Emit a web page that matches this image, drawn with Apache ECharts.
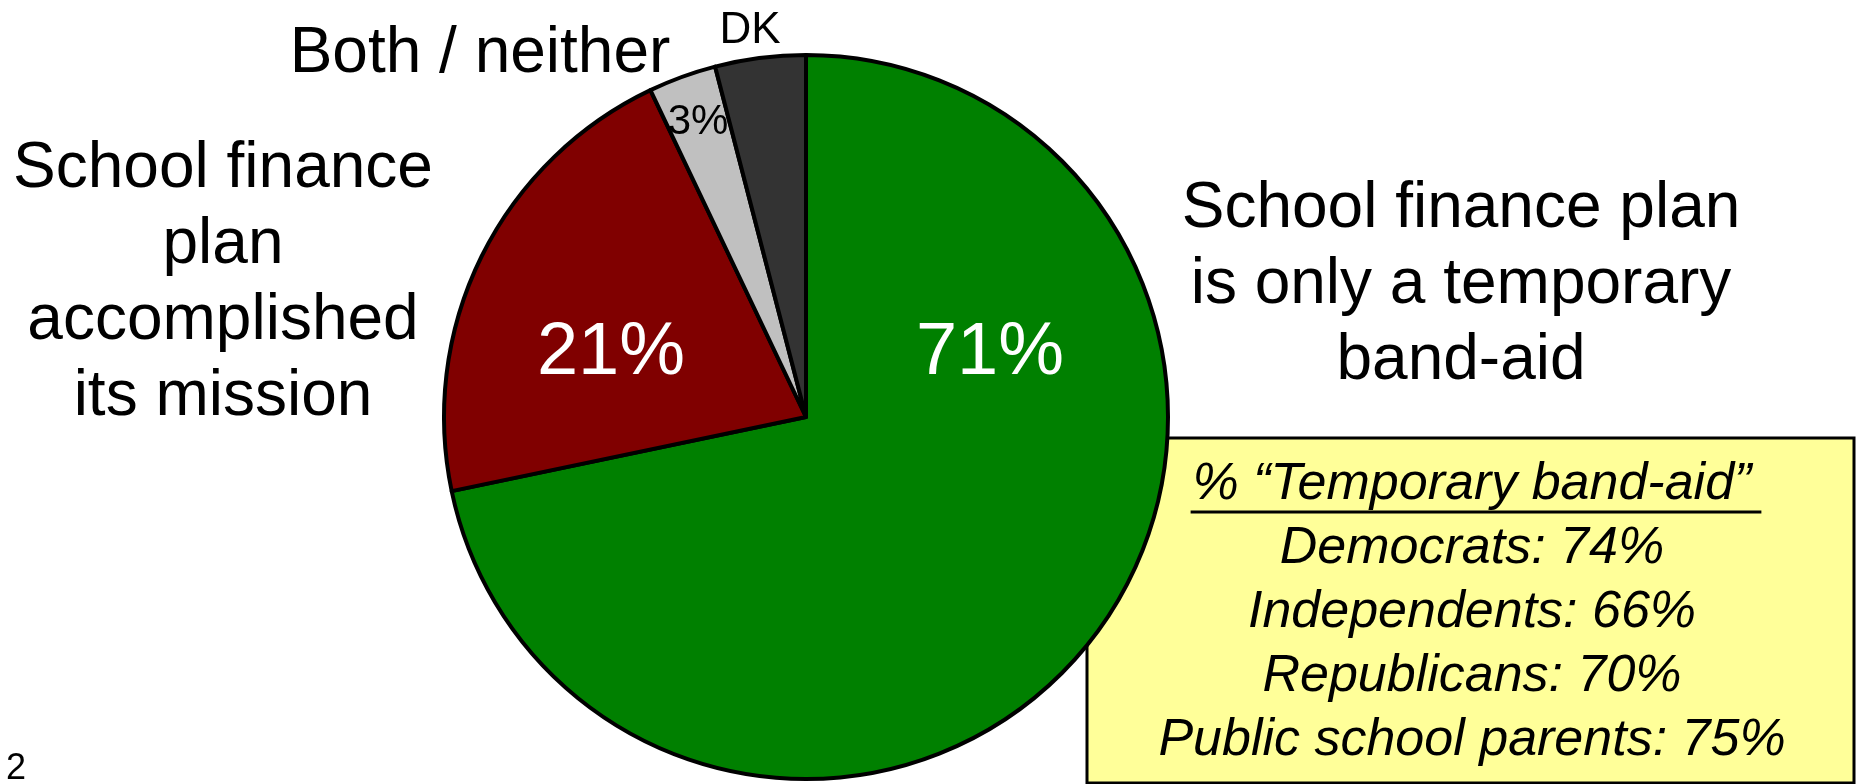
<!DOCTYPE html>
<html lang="en">
<head>
    <meta charset="UTF-8">
    <title>School finance plan</title>
    <style>
        *{
            margin: 0;
            padding: 0;
        }
        body{
            background: #fff;
        }
    </style>
</head>
<body>
<div id="main" style="width: 1856px;height:784px;"></div>
<script src="https://cdn.jsdelivr.net/npm/echarts@6/dist/echarts.min.js"></script>
<script type="text/javascript">
    // slices, clockwise from 12 o'clock
    var categories = ['School finance plan\nis only a temporary\nband-aid', 'School finance\nplan\naccomplished\nits mission', 'Both / neither', 'DK'];
    var values = [71, 21, 3, 4];
    var colors = ['#008000', '#800000', '#c0c0c0', '#333333'];

    // yellow box
    var boxTitle = '% \u201cTemporary band-aid\u201d';
    var groups = ['Democrats', 'Independents', 'Republicans', 'Public school parents'];
    var groupValues = [74, 66, 70, 75];

    var pageNo = '2';

    var FONT = "'Liberation Sans', Arial, sans-serif";
    var cx = 806, cy = 417;

    var myChart = echarts.init(document.getElementById('main'));

    var pieData = [];
    for(let i = 0;i<values.length;i++){
        pieData.push({
            name: categories[i],
            value: values[i],
            itemStyle: {color: colors[i]}
        });
    }

    // width of the box title, for the underline
    var ctx = document.createElement('canvas').getContext('2d');
    ctx.font = 'italic 52px ' + FONT;
    var titleW = ctx.measureText(boxTitle).width;

    function txt(x, y, s, size, color, extra){
        var st = {
            x: x, y: y, text: s,
            fill: color || '#000',
            font: (extra && extra.italic ? 'italic ' : '') + size + 'px ' + FONT,
            align: 'center',
            verticalAlign: 'middle'
        };
        if(extra && extra.lineHeight){
            st.lineHeight = extra.lineHeight;
        }
        return {type: 'text', z: 10, style: st};
    }

    var graphics = [
        {
            type: 'rect', z: 0,
            shape: {x: 1087, y: 438, width: 767, height: 345},
            style: {fill: '#ffff99', stroke: '#000', lineWidth: 3}
        },
        txt(1461, 285, categories[0], 64, '#000', {lineHeight: 76}),
        txt(223, 283, categories[1], 64, '#000', {lineHeight: 76}),
        txt(480, 54, categories[2], 64),
        txt(750, 31, categories[3], 44),
        txt(698, 122, values[2] + '%', 42),
        txt(611, 354, values[1] + '%', 74, '#fff'),
        txt(990, 354, values[0] + '%', 74, '#fff'),
        txt(16, 769, pageNo, 36),
        txt(1472, 485, boxTitle, 52, '#000', {italic: true}),
        {
            type: 'line', z: 10,
            shape: {x1: 1472 - titleW / 2 - 2, y1: 512, x2: 1472 + titleW / 2 + 10, y2: 512},
            style: {stroke: '#000', lineWidth: 3}
        }
    ];
    for(let i = 0;i<groups.length;i++){
        graphics.push(txt(1472, 549 + i * 64, groups[i] + ': ' + groupValues[i] + '%', 52, '#000', {italic: true}));
    }

    myChart.setOption({
        animation: false,
        graphic: graphics,
        series: [
            {
                type: 'pie',
                center: [cx, cy],
                radius: 362,
                startAngle: 90,
                clockwise: true,
                avoidLabelOverlap: false,
                label: {show: false},
                labelLine: {show: false},
                emphasis: {disabled: true},
                itemStyle: {
                    borderColor: '#000',
                    borderWidth: 4
                },
                data: pieData
            }
        ]
    });
</script>
</body>
</html>
